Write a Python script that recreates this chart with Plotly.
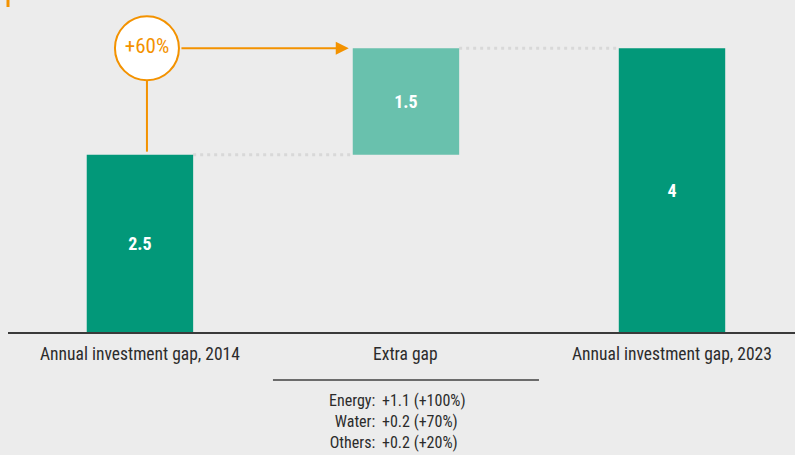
import plotly.graph_objects as go

# ---- data ----
categories = ["Annual investment gap, 2014", "Extra gap", "Annual investment gap, 2023"]
bar_values = [2.5, 1.5, 4.0]
bar_bases = [0.0, 2.5, 0.0]
bar_labels = ["2.5", "1.5", "4"]
growth_label = "+60%"
breakdown_labels = ["Energy:", "Water:", "Others:"]
breakdown_values = ["+1.1 (+100%)", "+0.2 (+70%)", "+0.2 (+20%)"]

# ---- style ----
DARK = "#029879"
LIGHT = "#69c1ad"
ORANGE = "#f39200"
BG = "#ececec"
TXT = "#2b2b2b"
FONT = "Liberation Sans Narrow, Roboto Condensed, Arial Narrow, Roboto, sans-serif"
bar_colors = [DARK, LIGHT, DARK]
LBL_SIZE = 17.5
BRK_SIZE = 16

W, H = 795, 455
ML, MR, MT, MB = 8, 0, 0, 123
plot_h = H - MT - MB
y_max = 4.68
px_per_unit = plot_h / y_max
x_rng = [-0.496, 2.4624]
x_px_per_unit = (W - ML - MR) / (x_rng[1] - x_rng[0])
bw = 0.4

def pbelow(px_below_axis):
    # paper-y for a point a given number of pixels below the baseline
    return -px_below_axis / plot_h

xs = list(range(len(categories)))

fig = go.Figure()
fig.add_trace(go.Bar(
    x=xs, y=bar_values, base=bar_bases, width=bw,
    marker=dict(color=bar_colors, line=dict(width=0)),
    text=bar_labels, textposition="inside", insidetextanchor="middle",
    textfont=dict(family=FONT, size=18, color="white", weight="bold"),
    constraintext="none", hoverinfo="skip", showlegend=False,
))

running = [b + v for b, v in zip(bar_bases, bar_values)]
shapes = []
for i in range(len(xs) - 1):
    shapes.append(dict(type="line", xref="x", yref="y",
                       x0=xs[i] + bw / 2, x1=xs[i + 1] - bw / 2,
                       y0=running[i], y1=running[i],
                       line=dict(color="#d8d8d8", width=3, dash="3px,4px"),
                       layer="below"))

cx = xs[0] + 7 / x_px_per_unit
cy = bar_values[2]
shapes.append(dict(type="line", xref="x", yref="y", x0=cx, x1=cx,
                   y0=running[0] + 3 / px_per_unit, y1=cy,
                   line=dict(color=ORANGE, width=2), layer="below"))
# separator under "Extra gap"
shapes.append(dict(type="line", xref="x", yref="paper", x0=xs[1] - 0.5, x1=xs[1] + 0.5,
                   y0=pbelow(48), y1=pbelow(48), line=dict(color="#6b6b6b", width=2)))
# small orange mark top-left
shapes.append(dict(type="line", xref="paper", yref="paper", x0=0, x1=0,
                   y0=1, y1=1 - 7 / plot_h, line=dict(color=ORANGE, width=3)))

fig.add_trace(go.Scatter(
    x=[cx], y=[cy], mode="markers+text", text=[growth_label],
    textposition="middle center",
    textfont=dict(family=FONT, size=21, color=ORANGE),
    marker=dict(size=64, color="white", line=dict(color=ORANGE, width=2)),
    hoverinfo="skip", showlegend=False, cliponaxis=False,
))

annotations = []
annotations.append(dict(x=xs[1] - bw / 2 - 4 / x_px_per_unit, y=cy, xref="x", yref="y",
                        ax=cx + 33 / x_px_per_unit, ay=cy, axref="x", ayref="y",
                        text="", showarrow=True, arrowhead=2, arrowsize=1.3,
                        arrowwidth=2, arrowcolor=ORANGE))
for x, c in zip(xs, categories):
    annotations.append(dict(x=x, y=pbelow(22), xref="x", yref="paper", text=c,
                            showarrow=False, xanchor="center", yanchor="middle",
                            font=dict(family=FONT, size=LBL_SIZE, color=TXT)))
# breakdown: one right-aligned label column, one left-aligned value column
yy = pbelow(89.5)
annotations.append(dict(x=xs[1] - 29 / x_px_per_unit, y=yy, xref="x", yref="paper",
                        text="<br>".join(breakdown_labels), align="right",
                        showarrow=False, xanchor="right", yanchor="middle",
                        font=dict(family=FONT, size=BRK_SIZE, color=TXT)))
annotations.append(dict(x=xs[1] - 26 / x_px_per_unit, y=yy, xref="x", yref="paper",
                        text="<br>".join(breakdown_values), align="left",
                        showarrow=False, xanchor="left", yanchor="middle",
                        font=dict(family=FONT, size=BRK_SIZE, color=TXT)))

fig.update_layout(
    width=W, height=H, margin=dict(l=ML, r=MR, t=MT, b=MB, pad=0),
    paper_bgcolor=BG, plot_bgcolor=BG, showlegend=False,
    shapes=shapes, annotations=annotations,
    xaxis=dict(range=x_rng, showgrid=False, zeroline=False, showticklabels=False,
               showline=True, linecolor="#3a3a3a", linewidth=1.5, ticks="", fixedrange=True),
    yaxis=dict(range=[0, y_max], visible=False, fixedrange=True),
    font=dict(family=FONT),
)

fig.write_html("out.html", config={"displayModeBar": False},
               post_script="document.body.style.margin='0';document.body.style.overflow='hidden';")
